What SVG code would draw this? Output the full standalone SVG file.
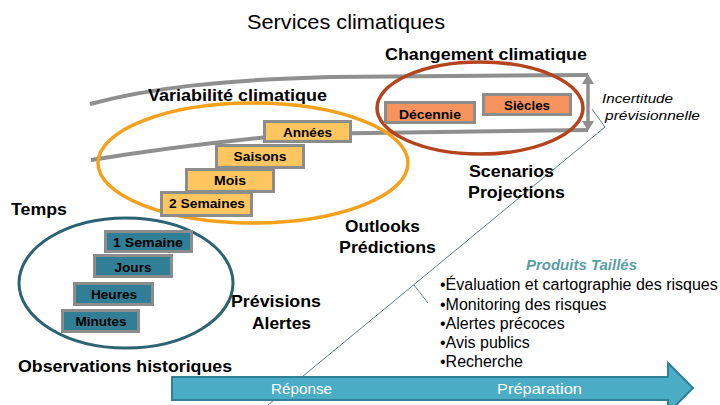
<svg xmlns="http://www.w3.org/2000/svg" width="720" height="405" viewBox="0 0 720 405">
<defs>
<style>
.t{font-family:"Liberation Sans",Arial,sans-serif;fill:#000}
.b16{font-size:16.5px;font-weight:bold}
.b12{font-size:13px;font-weight:bold;text-anchor:middle}
.box{stroke:#8C8C8C;stroke-width:3}
.or{fill:#FFC55F}
.sa{fill:#F7935C}
.te{fill:#317F97}
.gl{fill:none;stroke:#8F8F8F;stroke-width:4}
.li{font-size:16px}
.wt{font-family:"Liberation Sans",Arial,sans-serif;font-size:15px;fill:#fff}
</style>
</defs>
<rect width="720" height="405" fill="#fff"/>

<g id="connectors">
<path class="gl" d="M90,104 C150,88 220,80 330,77 L588,75"/>
<path class="gl" d="M91,160 Q190,144 300,134 L588,130"/>
<line x1="588" y1="82" x2="588" y2="123" stroke="#8F8F8F" stroke-width="3.5"/>
<polygon points="582,84 588,74 594,84" fill="#8F8F8F"/>
<polygon points="582,121 588,131 594,121" fill="#8F8F8F"/>
<polyline points="592,109 605,127 268,405" fill="none" stroke="#4E6B78" stroke-width="0.9"/>
<line x1="414" y1="285" x2="428" y2="303" stroke="#4E6B78" stroke-width="0.9"/>
</g>

<text class="t" x="247" y="29" font-size="20" textLength="198" lengthAdjust="spacingAndGlyphs">Services climatiques</text>

<g id="changement">
<ellipse cx="480" cy="108" rx="103" ry="46" fill="none" stroke="#B3441E" stroke-width="3.5"/>
<text class="t b16" x="385" y="60" textLength="202" lengthAdjust="spacingAndGlyphs">Changement climatique</text>
</g>

<g id="variabilite">
<ellipse cx="253" cy="163" rx="155" ry="60" fill="none" stroke="#F5A11C" stroke-width="3.5"/>
<text class="t b16" x="148" y="101" textLength="179" lengthAdjust="spacingAndGlyphs">Variabilité climatique</text>
</g>

<g id="observations">
<ellipse cx="126" cy="283" rx="107" ry="65" fill="none" stroke="#2C6372" stroke-width="3"/>
<text class="t b16" x="18" y="372" textLength="214" lengthAdjust="spacingAndGlyphs">Observations historiques</text>
</g>

<g id="decennie"><rect class="box sa" x="385.5" y="102.5" width="89" height="20"/><text class="t b12" x="430" y="119" textLength="62" lengthAdjust="spacingAndGlyphs">Décennie</text></g>
<g id="siecles"><rect class="box sa" x="483.5" y="94.5" width="87" height="20"/><text class="t b12" x="527" y="110" textLength="46" lengthAdjust="spacingAndGlyphs">Siècles</text></g>

<g id="annees"><rect class="box or" x="264.5" y="121.5" width="86" height="20"/><text class="t b12" x="307.5" y="137" textLength="49" lengthAdjust="spacingAndGlyphs">Années</text></g>
<g id="saisons"><rect class="box or" x="216.5" y="145.5" width="87" height="22"/><text class="t b12" x="260" y="161" textLength="53" lengthAdjust="spacingAndGlyphs">Saisons</text></g>
<g id="mois"><rect class="box or" x="186.5" y="169.5" width="87" height="22"/><text class="t b12" x="230" y="185" textLength="32" lengthAdjust="spacingAndGlyphs">Mois</text></g>
<g id="deux-semaines"><rect class="box or" x="161.5" y="192.5" width="90" height="23"/><text class="t b12" x="207" y="208" textLength="76" lengthAdjust="spacingAndGlyphs">2 Semaines</text></g>

<g id="une-semaine"><rect class="box te" x="105.5" y="231.5" width="86" height="20"/><text class="t b12" x="148" y="247" textLength="70" lengthAdjust="spacingAndGlyphs">1 Semaine</text></g>
<g id="jours"><rect class="box te" x="94.5" y="255.5" width="77" height="21"/><text class="t b12" x="133" y="272" textLength="37" lengthAdjust="spacingAndGlyphs">Jours</text></g>
<g id="heures"><rect class="box te" x="74.5" y="283.5" width="78" height="21"/><text class="t b12" x="114" y="299" textLength="46" lengthAdjust="spacingAndGlyphs">Heures</text></g>
<g id="minutes"><rect class="box te" x="62.5" y="310.5" width="76" height="21"/><text class="t b12" x="101" y="326" textLength="51" lengthAdjust="spacingAndGlyphs">Minutes</text></g>

<g id="temps"><text class="t b16" x="11" y="215" textLength="56" lengthAdjust="spacingAndGlyphs">Temps</text></g>

<g id="previsions">
<text class="t b16" x="231" y="307" textLength="90" lengthAdjust="spacingAndGlyphs">Prévisions</text>
<text class="t b16" x="252" y="329" textLength="59" lengthAdjust="spacingAndGlyphs">Alertes</text>
</g>
<g id="outlooks">
<text class="t b16" x="345" y="232" textLength="75" lengthAdjust="spacingAndGlyphs">Outlooks</text>
<text class="t b16" x="339" y="253" textLength="97" lengthAdjust="spacingAndGlyphs">Prédictions</text>
</g>
<g id="scenarios">
<text class="t b16" x="469" y="177" textLength="85" lengthAdjust="spacingAndGlyphs">Scenarios</text>
<text class="t b16" x="468" y="198" textLength="97" lengthAdjust="spacingAndGlyphs">Projections</text>
</g>

<g id="incertitude">
<text class="t" x="602" y="103" font-size="12.5" font-style="italic" textLength="71" lengthAdjust="spacingAndGlyphs">Incertitude</text>
<text class="t" x="605" y="120" font-size="12.5" font-style="italic" textLength="95" lengthAdjust="spacingAndGlyphs">prévisionnelle</text>
</g>

<g id="produits">
<text class="t" x="526" y="270" font-size="14" font-weight="bold" font-style="italic" style="fill:#5A9EA3" textLength="111" lengthAdjust="spacingAndGlyphs">Produits Taillés</text>
<text class="t li" x="440" y="290">•Évaluation et cartographie des risques</text>
<text class="t li" x="440" y="310">•Monitoring des risques</text>
<text class="t li" x="440" y="329">•Alertes précoces</text>
<text class="t li" x="440" y="348">•Avis publics</text>
<text class="t li" x="440" y="367">•Recherche</text>
</g>

<g id="fleche">
<polygon points="172,377 668,377 668,363 693,388 668,413 668,400 172,400" fill="#4BACC6" stroke="#2E7F97" stroke-width="2"/>
<text class="wt" x="271" y="394" textLength="61" lengthAdjust="spacingAndGlyphs">Réponse</text>
<text class="wt" x="497" y="394" textLength="85" lengthAdjust="spacingAndGlyphs">Préparation</text>
</g>
</svg>
